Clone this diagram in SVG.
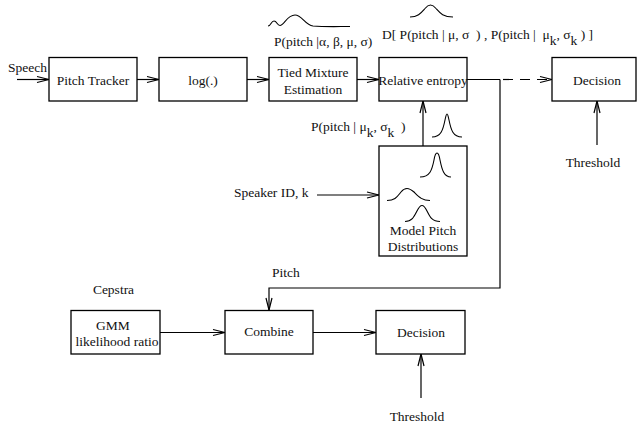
<svg xmlns="http://www.w3.org/2000/svg" width="637" height="425" viewBox="0 0 637 425">
  <style>
    .box { fill: #fff; stroke: #000; stroke-width: 1.3; }
    .t { font-family: "Liberation Serif", "Times New Roman", serif; font-size: 13.5px; fill: #111; }
    .c { text-anchor: middle; }
    .e { text-anchor: end; }
    .wire { fill: none; stroke: #000; stroke-width: 1.2; }
    .curve { fill: none; stroke: #000; stroke-width: 1.1; }
    .dash { stroke-dasharray: 10 7; }
  </style>
  <defs>
    <marker id="arrow" markerUnits="userSpaceOnUse" markerWidth="16" markerHeight="10" viewBox="-14 -5 16 10" refX="0" refY="0" orient="auto">
      <path d="M-12,-3 L0,0 L-12,3" fill="none" stroke="#000" stroke-width="1.2"/>
    </marker>
  </defs>
  <rect width="637" height="425" fill="#fff"/>

  <!-- connectors -->
  <g id="connectors">
    <line class="wire" x1="17" y1="79.5" x2="49" y2="79.5" marker-end="url(#arrow)"/>
    <line class="wire" x1="137" y1="79.5" x2="159" y2="79.5" marker-end="url(#arrow)"/>
    <line class="wire" x1="247" y1="79.5" x2="269" y2="79.5" marker-end="url(#arrow)"/>
    <line class="wire" x1="357" y1="79.5" x2="379" y2="79.5" marker-end="url(#arrow)"/>
    <line class="wire" x1="467" y1="79.5" x2="500" y2="79.5"/>
    <line class="wire dash" x1="503" y1="79.5" x2="552" y2="79.5" marker-end="url(#arrow)"/>
    <polyline class="wire" points="500,79.5 500,288 269,288 269,310" marker-end="url(#arrow)"/>
    <line class="wire" x1="423" y1="146" x2="423" y2="101" marker-end="url(#arrow)"/>
    <line class="wire" x1="317" y1="195" x2="379" y2="195" marker-end="url(#arrow)"/>
    <line class="wire" x1="597" y1="145" x2="597" y2="101" marker-end="url(#arrow)"/>
    <line class="wire" x1="160" y1="332.5" x2="225" y2="332.5" marker-end="url(#arrow)"/>
    <line class="wire" x1="313" y1="332.5" x2="376" y2="332.5" marker-end="url(#arrow)"/>
    <line class="wire" x1="421" y1="398" x2="421" y2="354" marker-end="url(#arrow)"/>
  </g>

  <!-- blocks -->
  <g id="pitch-tracker">
    <rect class="box" x="49" y="57.5" width="88" height="43.5"/>
    <text class="t c" x="93" y="84.5">Pitch Tracker</text>
  </g>
  <g id="log">
    <rect class="box" x="159" y="57.5" width="88" height="43.5"/>
    <text class="t c" x="203" y="84.5">log(.)</text>
  </g>
  <g id="tied-mixture">
    <rect class="box" x="269" y="57.5" width="88" height="43.5"/>
    <text class="t c" x="313" y="76.5">Tied Mixture</text>
    <text class="t c" x="313" y="94">Estimation</text>
  </g>
  <g id="relative-entropy">
    <rect class="box" x="379" y="57.5" width="88" height="43.5"/>
    <text class="t c" x="423" y="84.5">Relative entropy</text>
  </g>
  <g id="decision-top">
    <rect class="box" x="552" y="57.5" width="84" height="43.5"/>
    <text class="t c" x="597" y="84.5">Decision</text>
  </g>
  <g id="model-pitch">
    <rect class="box" x="379" y="146" width="88" height="110"/>
    <path class="curve" d="M420,177 C430,177 432,170 434,160 C435,154 436,153 437,153 C438,153 439,154 440,160 C442,170 444,177 451,177"/>
    <path class="curve" d="M387,200.5 C395,200.5 397,197 401,192 C403,189.5 405,188.5 407,188.5 C409,188.5 411,189.5 414,192 C419,197 422,200.5 430,200.5"/>
    <path class="curve" d="M405,221.5 C412,221.5 414,217 417,211 C419,207 420,205.5 422,205.5 C424,205.5 425,207 427,211 C430,217 432,221.5 440,221.5"/>
    <text class="t c" x="423" y="234.5">Model Pitch</text>
    <text class="t c" x="423" y="250.5">Distributions</text>
  </g>
  <g id="gmm">
    <rect class="box" x="71" y="310.5" width="89" height="43.5"/>
    <text class="t c" x="113" y="330">GMM</text>
    <text class="t c" x="117" y="345.5">likelihood ratio</text>
  </g>
  <g id="combine">
    <rect class="box" x="225" y="310.5" width="88" height="43.5"/>
    <text class="t c" x="269" y="336">Combine</text>
  </g>
  <g id="decision-bottom">
    <rect class="box" x="376" y="310.5" width="89" height="43.5"/>
    <text class="t c" x="421" y="337">Decision</text>
  </g>

  <!-- labels and sketched densities -->
  <g id="labels">
    <text class="t" x="8" y="72">Speech</text>
    <path class="curve" d="M268,26 C271,26 271,21 274,21 C277,21 277,25.5 280,25.5 C284,25.5 287,15 295,15 C302,15 305,25 313,26 C325,27 338,26.5 350,26.5"/>
    <text class="t" x="274" y="46" xml:space="preserve">P(pitch |α, β, μ, σ)</text>
    <path class="curve" d="M410,17 C418,17 421,13 425,8.5 C427,6 428.5,5 430.5,5 C432.5,5 434,6 436,8.5 C440,13 443,17 453,17"/>
    <text class="t" x="382" y="39" xml:space="preserve">D[ P(pitch | μ, σ  ) , P(pitch |  μ<tspan dy="6">k</tspan><tspan dy="-6">, σ</tspan><tspan dy="6">k</tspan><tspan dy="-6"> ) ]</tspan></text>
    <text class="t" x="311" y="131" xml:space="preserve">P(pitch | μ<tspan dy="6">k</tspan><tspan dy="-6">, σ</tspan><tspan dy="6">k</tspan><tspan dy="-6">  )</tspan></text>
    <path class="curve" d="M432,137 C441,137 443,130 445,120 C446,115 446.5,114 447,114 C447.5,114 448,115 449,120 C451,130 453,137 462,137"/>
    <text class="t e" x="308.5" y="197">Speaker ID, k</text>
    <text class="t c" x="593" y="167">Threshold</text>
    <text class="t c" x="113.5" y="294">Cepstra</text>
    <text class="t c" x="286" y="277">Pitch</text>
    <text class="t c" x="417" y="420.5">Threshold</text>
  </g>
</svg>
